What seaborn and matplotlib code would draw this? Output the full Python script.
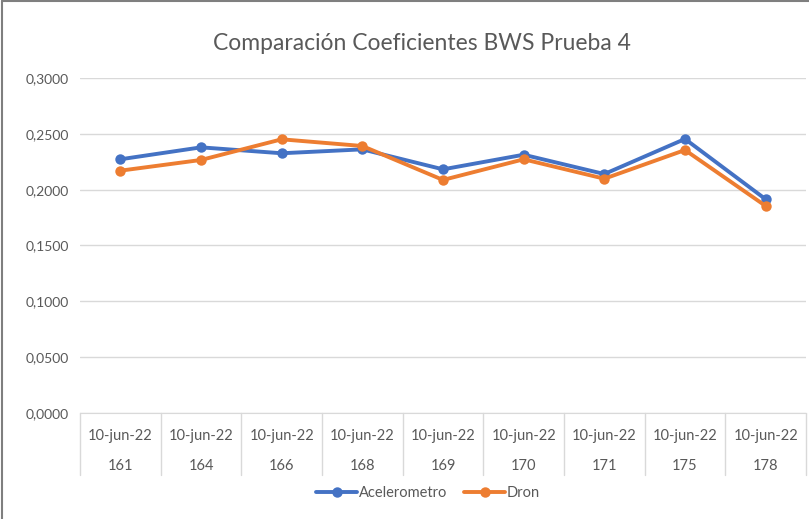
import pandas as pd
import matplotlib.pyplot as plt
import matplotlib.transforms as mtransforms
from matplotlib.ticker import FuncFormatter, MultipleLocator
import seaborn as sns

# datos del gráfico
fechas = ['10-jun-22'] * 9
puntos = ['161', '164', '166', '168', '169', '170', '171', '175', '178']
acelerometro = [0.2272, 0.2379, 0.2326, 0.2361, 0.2182, 0.2313, 0.2140, 0.2454, 0.1914]
dron = [0.2170, 0.2266, 0.2451, 0.2391, 0.2087, 0.2272, 0.2098, 0.2355, 0.1854]

n = len(puntos)
datos = pd.DataFrame({
    'pos': list(range(n)) * 2,
    'valor': acelerometro + dron,
    'serie': ['Acelerometro'] * n + ['Dron'] * n,
})

sns.set_style('white')
plt.rcParams['font.family'] = ['Lato', 'DejaVu Sans']

fig = plt.figure(figsize=(8.09, 5.19), dpi=100)
ax = fig.add_axes([80 / 809, (519 - 413) / 519, (806 - 80) / 809, (413 - 78) / 519])

colores = {'Acelerometro': '#4472C4', 'Dron': '#ED7D31'}
sns.lineplot(data=datos, x='pos', y='valor', hue='serie', palette=colores,
             marker='o', markersize=7.5, markeredgewidth=0, linewidth=2.8,
             ax=ax, legend=False)

ax.set_xlim(-0.5, n - 0.5)
ax.set_ylim(0, 0.3)
ax.yaxis.set_major_locator(MultipleLocator(0.05))
ax.yaxis.set_major_formatter(FuncFormatter(lambda v, p: f'{v:.4f}'.replace('.', ',')))
ax.tick_params(axis='y', labelsize=10, colors='#595959', length=0, pad=8)
ax.set_xticks([])
ax.set_xlabel('')
ax.set_ylabel('')
ax.grid(axis='y', color='#d9d9d9', linewidth=1)
for lado in ['top', 'right', 'left']:
    ax.spines[lado].set_visible(False)
ax.spines['bottom'].set_color('#d9d9d9')

# eje de categorías en dos niveles
trans = mtransforms.blended_transform_factory(ax.transData, ax.transAxes)
for i in range(n):
    ax.text(i, -0.068, fechas[i], transform=trans, ha='center', va='center',
            fontsize=10.5, color='#595959')
    ax.text(i, -0.157, puntos[i], transform=trans, ha='center', va='center',
            fontsize=10.5, color='#595959')
for i in range(n + 1):
    ax.plot([i - 0.5, i - 0.5], [0, -0.185], transform=trans, color='#d9d9d9',
            linewidth=1, clip_on=False)

fig.text(422 / 809, (519 - 43) / 519, 'Comparación Coeficientes BWS Prueba 4',
         fontsize=16.5, color='#595959', ha='center', va='center')

# leyenda
handles = [plt.Line2D([], [], color=colores[s], marker='o', markersize=7.5,
                      markeredgewidth=0, linewidth=2.8) for s in colores]
fig.legend(handles, list(colores), loc='center', bbox_to_anchor=(428 / 809, (519 - 493) / 519),
           ncol=2, frameon=False, fontsize=10.5, handlelength=2.8,
           handletextpad=0.1, columnspacing=1.2, labelcolor='#595959')

# borde del gráfico
fig.add_artist(plt.Line2D([0.002, 0.002], [0, 0.998], color='#7f7f7f', linewidth=1.5))
fig.add_artist(plt.Line2D([0.002, 1], [0.998, 0.998], color='#7f7f7f', linewidth=1.5))

fig.savefig('out.png', dpi=100)
